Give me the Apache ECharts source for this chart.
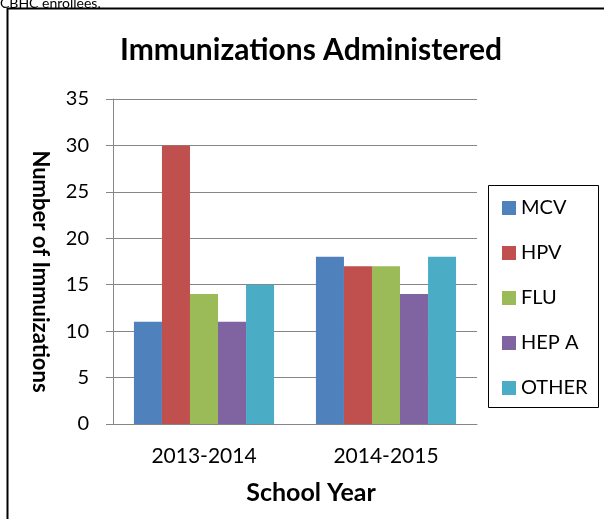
<!DOCTYPE html>
<html>
<head>
<meta charset="utf-8">
<script src="https://cdn.jsdelivr.net/npm/echarts@6/dist/echarts.min.js"></script>
<style>
html,body{margin:0;padding:0;background:#fff;}
#chart{width:604px;height:519px;}
</style>
</head>
<body>
<div id="chart"></div>
<script>
const categories = ['2013-2014', '2014-2015'];
const seriesNames = ['MCV', 'HPV', 'FLU', 'HEP A', 'OTHER'];
const mcv = [11, 18];
const hpv = [30, 17];
const flu = [14, 17];
const hepA = [11, 14];
const other = [15, 18];
const colors = ['#4F81BD', '#C0504D', '#9BBB59', '#8064A2', '#4BACC6'];
const seriesValues = [mcv, hpv, flu, hepA, other];
const FONT = 'Lato, "Open Sans", sans-serif';

const chart = echarts.init(document.getElementById('chart'));
chart.setOption({
  animation: false,
  backgroundColor: '#fff',
  title: {
    text: 'Immunizations Administered',
    left: 306, top: 30, textAlign: 'center',
    textStyle: {fontFamily: FONT, fontWeight: 'bold', fontSize: 30, color: '#000'}
  },
  legend: {
    orient: 'vertical',
    left: 497, top: 193,
    itemWidth: 14, itemHeight: 14, itemGap: 25,
    icon: 'rect',
    textStyle: {fontFamily: FONT, fontSize: 20, color: '#000'},
    data: seriesNames
  },
  grid: {left: 113, right: 127, top: 99, bottom: 95, containLabel: false},
  xAxis: {
    type: 'category',
    data: categories,
    name: 'School Year',
    nameLocation: 'middle',
    nameGap: 56,
    nameTextStyle: {fontFamily: FONT, fontWeight: 'bold', fontSize: 25, color: '#000', padding:[0,0,0,32]},
    axisLine: {lineStyle: {color: '#868686', width: 1}},
    axisTick: {show: false},
    axisLabel: {fontFamily: FONT, fontSize: 21, color: '#000', margin: 22}
  },
  yAxis: {
    type: 'value',
    min: 0, max: 35, interval: 5,
    name: 'Number of Immuizations',
    nameLocation: 'middle',
    nameGap: 62,
    nameRotate: -90,
    nameTextStyle: {fontFamily: FONT, fontWeight: 'bold', fontSize: 22, color: '#000', padding:[0,0,0,20]},
    axisLine: {show: true, lineStyle: {color: '#868686', width: 1}},
    axisTick: {show: true, length: 7, lineStyle: {color: '#868686'}},
    axisLabel: {fontFamily: FONT, fontSize: 20, color: '#000', margin: 24},
    splitLine: {lineStyle: {color: '#868686', width: 1}}
  },
  series: seriesNames.map((n, i) => ({
    name: n,
    type: 'bar',
    data: seriesValues[i],
    itemStyle: {color: colors[i]},
    barGap: '0%',
    barCategoryGap: '23%'
  })),
  graphic: [
    {type: 'text', left: 0, top: -4, style: {text: 'CBHC enrollees.', font: '14px ' + FONT, fill: '#000'}},
    {type: 'polyline', shape: {points: [[7.5, 530], [7.5, 8.5], [620, 8.5]]}, style: {stroke: '#000', lineWidth: 2, fill: null}},
    {type: 'rect', shape: {x: 488.5, y: 185.5, width: 110, height: 222}, style: {stroke: '#000', lineWidth: 1, fill: null}}
  ]
});
</script>
</body>
</html>
